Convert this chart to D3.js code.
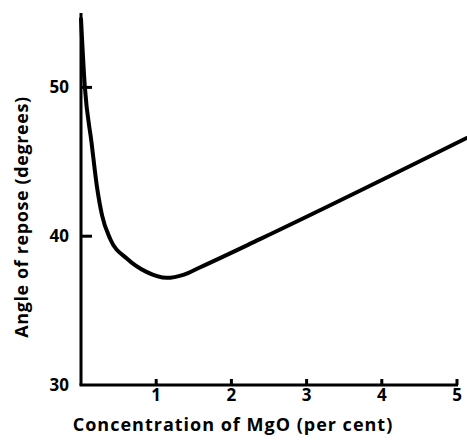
<!DOCTYPE html>
<html>
<head>
<meta charset="utf-8">
<script src="https://cdn.jsdelivr.net/npm/d3@7"></script>
<style>
  body { margin: 0; background: #fff; }
  text { font-family: "Open Sans", "DejaVu Sans", sans-serif; font-weight: 700; fill: #000; }
</style>
</head>
<body>
<script>
// values
var mgo   = [0, 0.05, 0.14, 0.21, 0.28, 0.39, 0.61, 0.87, 1.14, 1.36, 1.58, 2.38, 5.13];
var angle = [54.6, 50.1, 46.3, 43.4, 41.4, 39.8, 38.5, 37.6, 37.2, 37.4, 37.9, 39.8, 46.6];
var xTicks = [1, 2, 3, 4, 5];
var yTicks = [30, 40, 50];
var xTitle = "Concentration of MgO (per cent)";
var yTitle = "Angle of repose (degrees)";

var W = 467, H = 440;
var svg = d3.select('body').append('svg').attr('width', W).attr('height', H);

var x = d3.scaleLinear().domain([0, 5]).range([81, 457]);
var y = d3.scaleLinear().domain([30, 55]).range([385, 13]);

// axes lines
svg.append('line').attr('x1', x(0)).attr('x2', x(0)).attr('y1', y(55)).attr('y2', y(30))
  .attr('stroke', '#000').attr('stroke-width', 3);
svg.append('line').attr('x1', x(0) - 1.5).attr('x2', x(5) + 1).attr('y1', y(30)).attr('y2', y(30))
  .attr('stroke', '#000').attr('stroke-width', 3);

// x ticks point up into the plot
svg.selectAll('.xt').data(xTicks).enter().append('line')
  .attr('x1', function(d) { return x(d); }).attr('x2', function(d) { return x(d); })
  .attr('y1', y(30)).attr('y2', y(30) - 6)
  .attr('stroke', '#000').attr('stroke-width', 3);
svg.selectAll('.xl').data(xTicks).enter().append('text')
  .attr('x', function(d) { return x(d); }).attr('y', 401)
  .attr('text-anchor', 'middle').style('font-size', '17px')
  .text(function(d) { return d; });

// y ticks point right
svg.selectAll('.yt').data(yTicks.filter(function(d) { return d > 30; })).enter().append('line')
  .attr('x1', x(0)).attr('x2', x(0) + 11)
  .attr('y1', function(d) { return y(d); }).attr('y2', function(d) { return y(d); })
  .attr('stroke', '#000').attr('stroke-width', 3);
svg.selectAll('.yl').data(yTicks).enter().append('text')
  .attr('x', 69).attr('y', function(d) { return y(d) + 6; })
  .attr('text-anchor', 'end').style('font-size', '17px')
  .text(function(d) { return d; });

// titles
svg.append('text').attr('x', 233).attr('y', 431).attr('text-anchor', 'middle')
  .style('font-size', '18px').style('letter-spacing', '1px').text(xTitle);
svg.append('text').attr('transform', 'translate(28,' + 217 + ') rotate(-90)')
  .attr('text-anchor', 'middle').style('font-size', '18px').style('letter-spacing', '0.6px').text(yTitle);

// curve
var pts = mgo.map(function(v, i) { return [v, angle[i]]; });
var line = d3.line().x(function(d) { return x(d[0]); }).y(function(d) { return y(d[1]); })
  .curve(d3.curveMonotoneX);
svg.append('path').attr('d', line(pts)).attr('fill', 'none')
  .attr('stroke', '#000').attr('stroke-width', 4).attr('stroke-linecap', 'round');
</script>
</body>
</html>
